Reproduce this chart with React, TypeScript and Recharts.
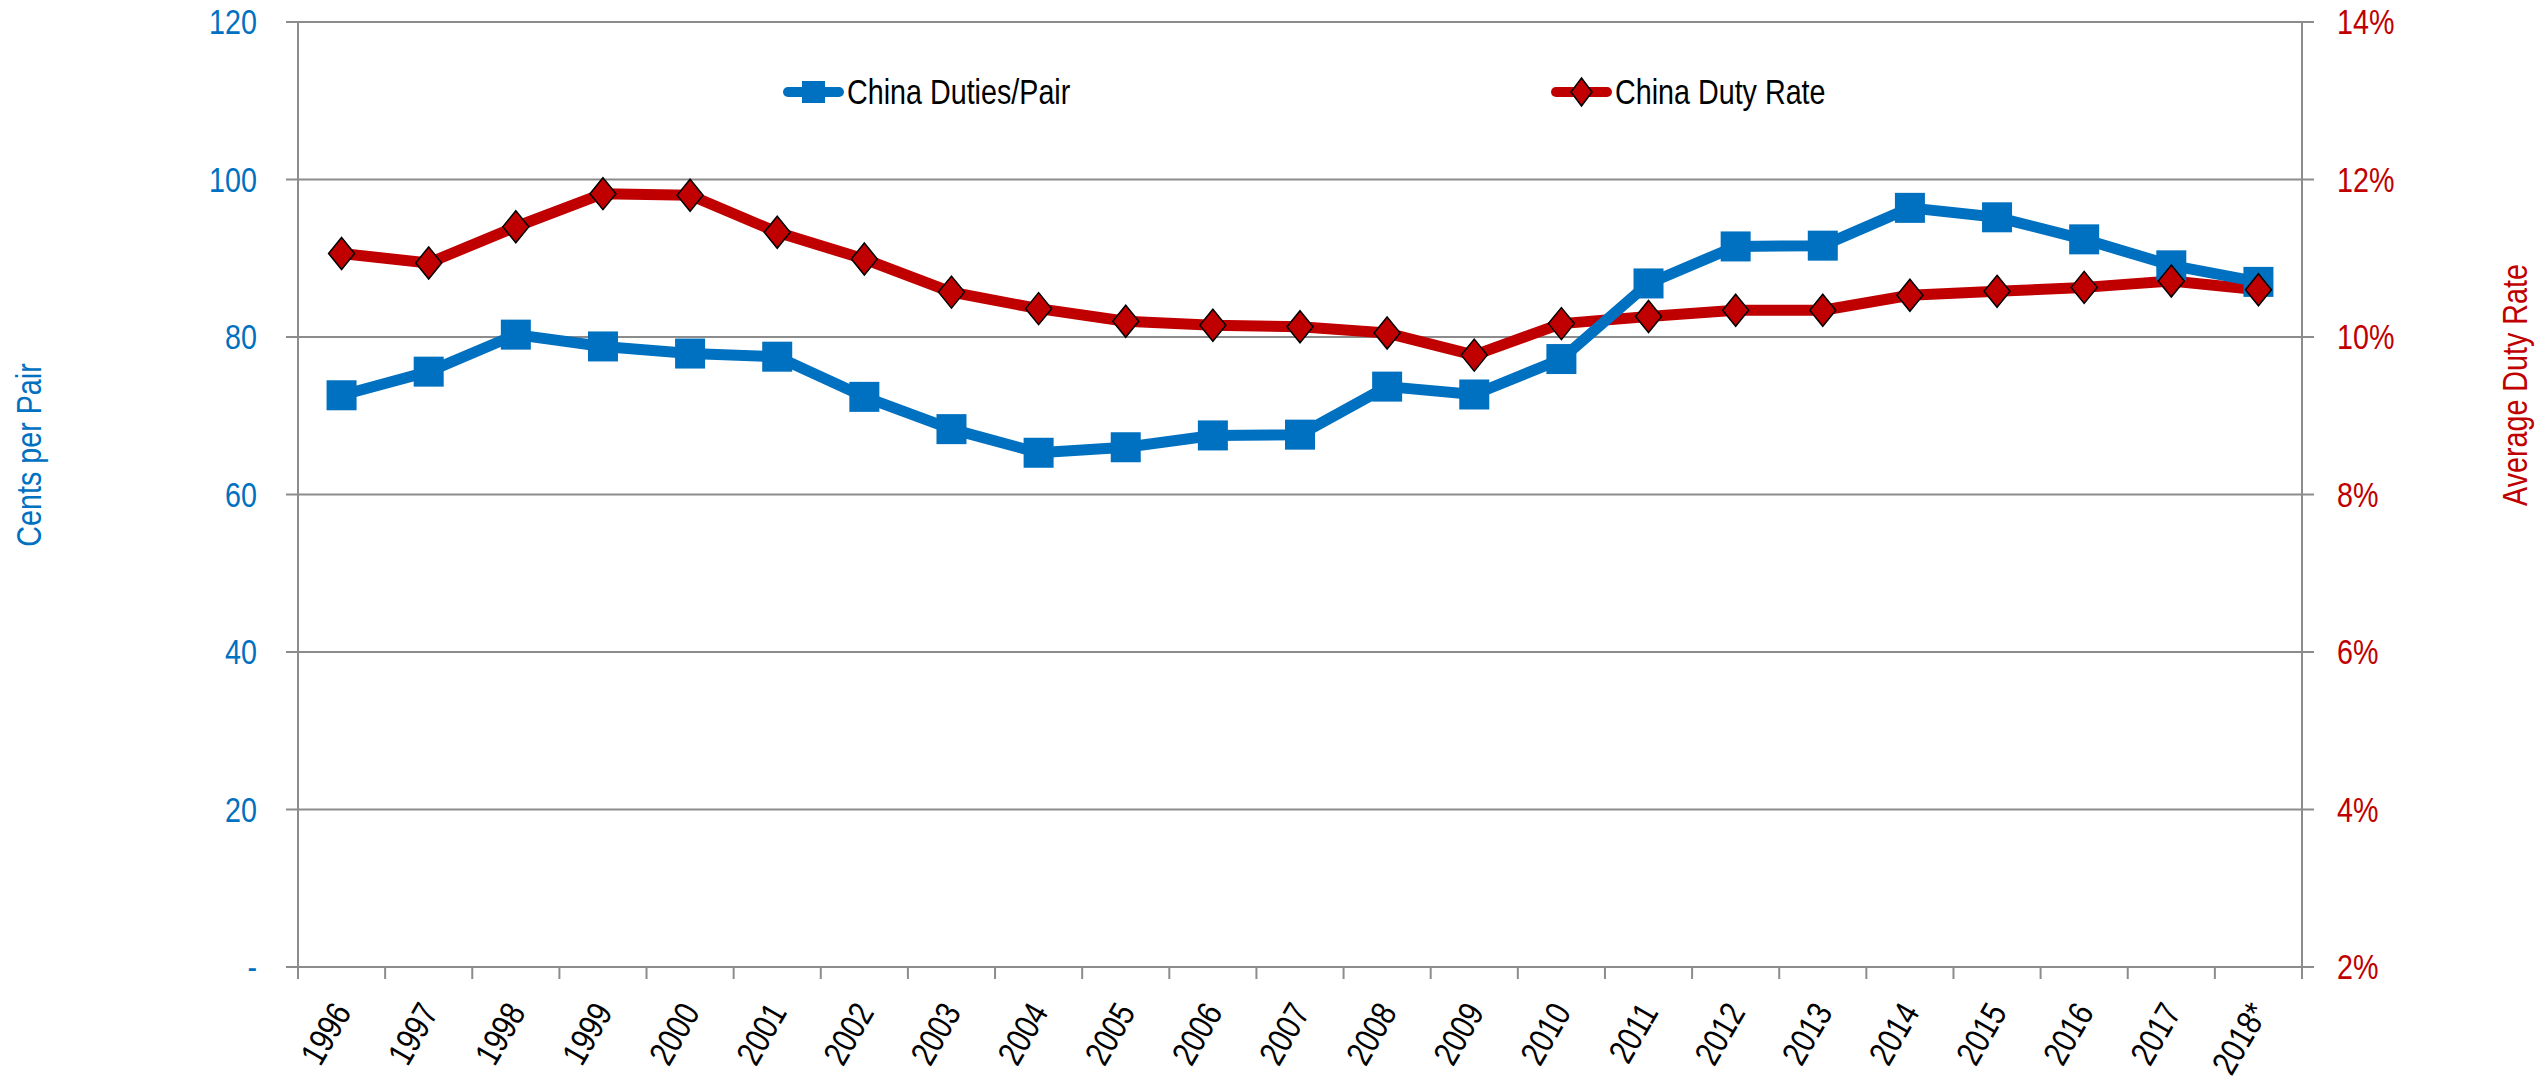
import { CartesianGrid, Line, LineChart, XAxis, YAxis } from "recharts";

const years = [
  "1996", "1997", "1998", "1999", "2000", "2001", "2002", "2003", "2004", "2005", "2006", "2007",
  "2008", "2009", "2010", "2011", "2012", "2013", "2014", "2015", "2016", "2017", "2018*",
];
// cents per pair (left axis)
const dutiesPerPair = [
  72.6, 75.6, 80.3, 78.8, 77.9, 77.5, 72.4, 68.3, 65.3, 66.0, 67.5, 67.6,
  73.7, 72.7, 77.2, 86.8, 91.5, 91.6, 96.4, 95.2, 92.4, 89.1, 87.0,
];
// average duty rate in % (right axis)
const dutyRate = [
  11.06, 10.94, 11.4, 11.82, 11.8, 11.33, 10.99, 10.57, 10.36, 10.2, 10.15, 10.13,
  10.05, 9.77, 10.17, 10.26, 10.34, 10.34, 10.53, 10.58, 10.63, 10.71, 10.6,
];
const leftTicks = [0, 20, 40, 60, 80, 100, 120];
const rightTicks = [2, 4, 6, 8, 10, 12, 14];

const BLUE = "#0070C0";
const RED = "#C00000";
const GRID = "#8c8c8c";
const FONT = "'Liberation Sans', Arial, sans-serif";
const NARROW = 0.82; // source uses a narrow face
const FS = 35;

const W = 2542;
const H = 1081;
const LEFT_W = 298;
const RIGHT_W = 240;
const TOP = 22;
const X_H = 114;
const BAND = (W - LEFT_W - RIGHT_W) / years.length;

const data = years.map((year, i) => ({ year, duties: dutiesPerPair[i], rate: dutyRate[i] }));

const legendItems = [
  { label: "China Duties/Pair", color: BLUE, marker: "square", x: 783 },
  { label: "China Duty Rate", color: RED, marker: "diamond", x: 1551 },
];

function SquareDot({ cx, cy, index }: any) {
  if (cx == null || cy == null) return null;
  return <rect key={`sq-${index}`} x={cx - 15} y={cy - 15} width={30} height={30} fill={BLUE} />;
}

function DiamondDot({ cx, cy, index }: any) {
  if (cx == null || cy == null) return null;
  return (
    <polygon
      key={`dm-${index}`}
      points={`${cx},${cy - 16} ${cx + 13},${cy} ${cx},${cy + 16} ${cx - 13},${cy}`}
      fill={RED}
      stroke="#000"
      strokeWidth={1.5}
    />
  );
}

function NarrowText({ x, y, anchor, color, angle = 0, children }: any) {
  return (
    <text
      transform={`translate(${x},${y}) rotate(${angle}) scale(${NARROW},1)`}
      textAnchor={anchor}
      dy="0.35em"
      fontSize={FS}
      fontFamily={FONT}
      fill={color}
    >
      {children}
    </text>
  );
}

function LeftTick({ x, y, payload }: any) {
  return (
    <NarrowText x={x} y={y} anchor="end" color={BLUE}>
      {payload.value === 0 ? "-" : payload.value}
    </NarrowText>
  );
}

function RightTick({ x, y, payload }: any) {
  return (
    <NarrowText x={x} y={y} anchor="start" color={RED}>
      {`${payload.value}%`}
    </NarrowText>
  );
}

function YearTick({ x, y, payload, index }: any) {
  const left = x - BAND / 2;
  return (
    <g>
      <line x1={left} y1={y} x2={left} y2={y + 12} stroke={GRID} strokeWidth={2} />
      {index === years.length - 1 && (
        <line x1={x + BAND / 2} y1={y} x2={x + BAND / 2} y2={y + 12} stroke={GRID} strokeWidth={2} />
      )}
      <NarrowText x={x} y={y + 39} anchor="end" color="#000" angle={-60}>
        {payload.value}
      </NarrowText>
    </g>
  );
}

export default function App() {
  return (
    <div style={{ position: "absolute", left: 0, top: 0, width: W, height: H, background: "#fff" }}>
      <LineChart width={W} height={H} data={data} margin={{ top: TOP, right: 0, bottom: 0, left: 0 }}>
        <CartesianGrid yAxisId="left" vertical={false} stroke={GRID} strokeWidth={2} />
        <XAxis
          dataKey="year"
          height={X_H}
          interval={0}
          padding={{ left: BAND / 2, right: BAND / 2 }}
          axisLine={{ stroke: GRID, strokeWidth: 2 }}
          tickLine={false}
          tickSize={0}
          tickMargin={0}
          tick={YearTick}
        />
        <YAxis
          yAxisId="left"
          orientation="left"
          width={LEFT_W}
          domain={[0, 120]}
          ticks={leftTicks}
          interval={0}
          axisLine={{ stroke: GRID, strokeWidth: 2 }}
          tickLine={{ stroke: GRID, strokeWidth: 2 }}
          tickSize={12}
          tickMargin={29}
          tick={LeftTick}
        />
        <YAxis
          yAxisId="right"
          orientation="right"
          width={RIGHT_W}
          domain={[2, 14]}
          ticks={rightTicks}
          interval={0}
          axisLine={{ stroke: GRID, strokeWidth: 2 }}
          tickLine={{ stroke: GRID, strokeWidth: 2 }}
          tickSize={12}
          tickMargin={23}
          tick={RightTick}
        />
        {/* lines first, red under blue, then markers on top */}
        <Line
          yAxisId="right"
          dataKey="rate"
          stroke={RED}
          strokeWidth={11}
          strokeLinejoin="round"
          dot={false}
          activeDot={false}
          isAnimationActive={false}
        />
        <Line
          yAxisId="left"
          dataKey="duties"
          stroke={BLUE}
          strokeWidth={11}
          strokeLinejoin="round"
          dot={false}
          activeDot={false}
          isAnimationActive={false}
        />
        <Line
          yAxisId="left"
          dataKey="duties"
          stroke="none"
          dot={SquareDot}
          activeDot={false}
          isAnimationActive={false}
        />
        <Line
          yAxisId="right"
          dataKey="rate"
          stroke="none"
          dot={DiamondDot}
          activeDot={false}
          isAnimationActive={false}
        />
      </LineChart>

      <svg
        width={W}
        height={H}
        style={{ position: "absolute", left: 0, top: 0, pointerEvents: "none" }}
      >
        <NarrowText x={29} y={455} anchor="middle" color={BLUE} angle={-90}>
          Cents per Pair
        </NarrowText>
        <NarrowText x={2515} y={385} anchor="middle" color={RED} angle={-90}>
          Average Duty Rate
        </NarrowText>
        {legendItems.map((item) => (
          <g key={item.label}>
            <line
              x1={item.x + 5}
              y1={92}
              x2={item.x + 56}
              y2={92}
              stroke={item.color}
              strokeWidth={10}
              strokeLinecap="round"
            />
            {item.marker === "square" ? (
              <rect x={item.x + 19} y={81} width={23} height={22} fill={item.color} />
            ) : (
              <polygon
                points={`${item.x + 30.5},${78} ${item.x + 41},${92} ${item.x + 30.5},${106} ${item.x + 20},${92}`}
                fill={item.color}
                stroke="#000"
                strokeWidth={1.5}
              />
            )}
            <NarrowText x={item.x + 64} y={92} anchor="start" color="#000">
              {item.label}
            </NarrowText>
          </g>
        ))}
      </svg>
    </div>
  );
}
